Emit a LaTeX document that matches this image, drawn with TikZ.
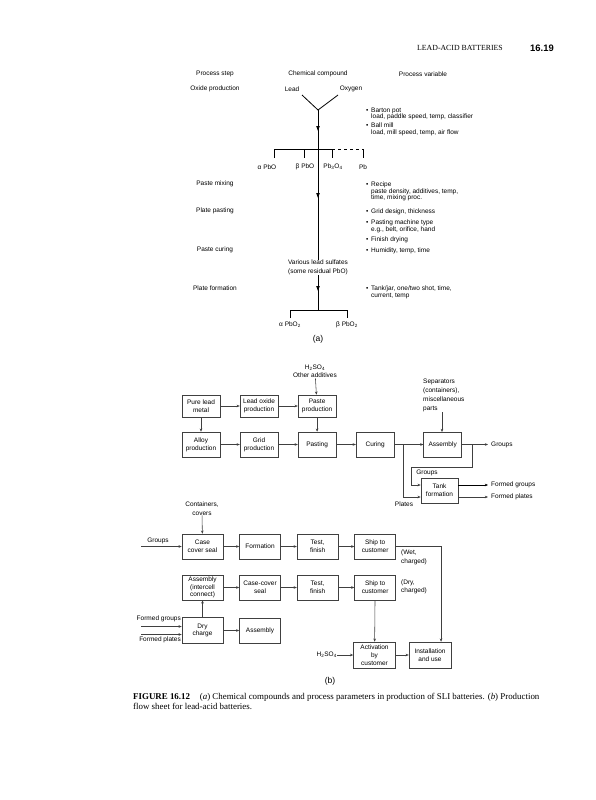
\documentclass[tikz,border=0pt]{standalone}
\usepackage{fontspec}
\setmainfont{Liberation Sans}
\newfontfamily\capfont{Liberation Serif}
\usetikzlibrary{arrows.meta,positioning}
\newcommand{\dgfont}{\fontsize{6.5}{7.8}\selectfont}
\newcommand{\bulx}{\makebox[5pt][l]{\textbullet}}
\newcommand{\indx}{\hspace*{5pt}}
\tikzset{pin/.style={-{Triangle[length=5pt,width=3.4pt]}},
  flow/.style={draw=black!75, line width=0.55pt, -{Stealth[length=3.2pt,width=2.6pt]}},
  lbl/.style={font=\dgfont, inner sep=0pt, align=center},
  pv/.style={font=\fontsize{6.5}{6.7}\selectfont, inner sep=0pt, align=left, anchor=north west},
  box/.style={draw=black!75, line width=0.55pt, minimum width=38pt, minimum height=22pt,
    inner sep=1pt, align=center, font=\dgfont},
  bigbox/.style={box, minimum width=41pt, minimum height=25pt}}

\begin{document}
\begin{tikzpicture}[x=1pt, y=-1pt]
  \useasboundingbox (0,0) rectangle (595,800);
  % page header
  \node[anchor=west, inner sep=0pt, font=\capfont\fontsize{7.8}{9}\selectfont] (runhead) at (417,48) {LEAD-ACID BATTERIES};
  \node[anchor=west, inner sep=0pt, font=\bfseries\fontsize{9.4}{10}\selectfont] (pageno) at (530,48) {16.19};
  % (a) column heads and process steps
  \node[lbl] (hstep) at (215,74) {Process step};
  \node[lbl] (hcomp) at (318,74) {Chemical compound};
  \node[lbl] (hvar) at (423,74) {Process variable};
  \node[lbl] (sOxide) at (215,89) {Oxide production};
  \node[lbl] (sMix) at (215,184) {Paste mixing};
  \node[lbl] (sPast) at (215,211) {Plate pasting};
  \node[lbl] (sCure) at (215,250) {Paste curing};
  \node[lbl] (sForm) at (215,288) {Plate formation};
  % (a) compounds
  \node[lbl] (lead) at (292,89) {Lead};
  \node[lbl] (oxy) at (351,89) {Oxygen};
  \coordinate (vl) at (302,95);
  \coordinate (vr) at (338,95);
  \coordinate (apex) at (318,110);
  \coordinate (br1) at (318,149);
  \coordinate (br2) at (318,310);
  \draw[line width=0.8pt] (vl) -- (apex) -- (vr);
  \draw[line width=0.8pt, pin] (apex) -- (318,131);
  \draw[line width=0.8pt] (318,129) -- (br1);
  \draw[line width=0.7pt] (274,158) -- (274,149) -- (332,149);
  \draw[line width=0.7pt, dashed] (332,149) -- (363,149);
  \draw[line width=0.7pt] (304,149) -- (304,158);
  \draw[line width=0.7pt] (332,149) -- (332,158);
  \draw[line width=0.7pt] (363,149) -- (363,158);
  \node[lbl] (aPbO) at (267,167) {α PbO};
  \node[lbl] (bPbO) at (305,167) {β PbO};
  \node[lbl] (minium) at (333,167) {Pb\textsubscript{3}O\textsubscript{4}};
  \node[lbl] (pb) at (363,167) {Pb};
  \node[lbl, font=\fontsize{6.5}{9}\selectfont] (sulf) at (318,267.5) {Various lead sulfates\\(some residual PbO)};
  \draw[line width=0.8pt, pin] (br1) -- (318,198);
  \draw[line width=0.8pt] (318,196) -- (sulf.north);
  \draw[line width=0.8pt, pin] (sulf.south) -- (318,291);
  \draw[line width=0.8pt] (318,289) -- (br2);
  \draw[line width=0.7pt] (290,318) -- (290,310) -- (347,310) -- (347,318);
  \node[lbl] (aPbO2) at (290,325) {α PbO\textsubscript{2}};
  \node[lbl] (bPbO2) at (347,325) {β PbO\textsubscript{2}};
  \node[lbl, font=\fontsize{8.5}{10}\selectfont] (parta) at (318,339) {(a)};
  % (a) process variables
  \node[pv] (vBarton) at (366,107.5) {\bulx Barton pot\\\indx load, paddle speed, temp, classifier};
  \node[pv] (vBall) at (366,122.5) {\bulx Ball mill\\\indx load, mill speed, temp, air flow};
  \node[pv] (vRecipe) at (366,181.5) {\bulx Recipe\\\indx paste density, additives, temp,\\\indx time, mixing proc.};
  \node[pv] (vGrid) at (366,208.5) {\bulx Grid design, thickness};
  \node[pv] (vMach) at (366,219.5) {\bulx Pasting machine type\\\indx e.g., belt, orifice, hand};
  \node[pv] (vDry) at (366,236.5) {\bulx Finish drying};
  \node[pv] (vHum) at (366,247.5) {\bulx Humidity, temp, time};
  \node[pv] (vTank) at (366,285.5) {\bulx Tank/jar, one/two shot, time,\\\indx current, temp};
  % (b) upper flow sheet
  \node[box] (pure) at (201,406) {Pure lead\\metal};
  \node[box, right=19.5pt of pure] (oxide) {Lead oxide\\production};
  \node[box, right=19.5pt of oxide] (paste) {Paste\\production};
  \node[box, minimum height=25pt] (alloy) at (201,444.5) {Alloy\\production};
  \node[box, minimum height=25pt, right=19.5pt of alloy] (grid) {Grid\\production};
  \node[box, minimum height=25pt, right=19.5pt of grid] (pasting) {Pasting};
  \node[box, minimum height=25pt, right=19.5pt of pasting] (curing) {Curing};
  \node[box, minimum height=25pt, right=29pt of curing] (assembly) {Assembly};
  \node[box, minimum width=37pt, minimum height=25pt] (tank) at (439.5,490.5) {Tank\\formation};
  \node[lbl, font=\fontsize{6.5}{8.5}\selectfont] (acid) at (315,371.5) {H\textsubscript{2}SO\textsubscript{4}\\Other additives};
  \node[lbl, font=\fontsize{6.5}{9}\selectfont, align=left, anchor=north west] (sep) at (423,379) {Separators\\(containers),\\miscellaneous\\parts};
  \coordinate (jc) at (403,444.5);
  \coordinate (jg) at (472,444.5);
  \coordinate (gout) at (488,444.5);
  \coordinate (fgout) at (488,485);
  \coordinate (fpout) at (488,497);
  \draw[flow] (pure) -- (oxide);
  \draw[flow] (oxide) -- (paste);
  \draw[flow] (pure) -- (alloy);
  \draw[flow] (acid) -- (paste);
  \draw[flow] (paste) -- (pasting);
  \draw[flow] (alloy) -- (grid);
  \draw[flow] (grid) -- (pasting);
  \draw[flow] (pasting) -- (curing);
  \draw[flow] (curing) -- (assembly);
  \draw[flow] (sep.south -| 442,0) -- (442,432);
  \draw[flow] (assembly) -- (gout);
  \draw[flow] (jg) |- (411,467) |- ([yshift=5.5pt]tank.west);
  \draw[flow] (jc) |- ([yshift=-6.5pt]tank.west);
  \draw[flow, draw=black, line width=0.7pt] ([yshift=5.5pt]tank.east) -- (fgout);
  \draw[flow] ([yshift=-6.5pt]tank.east) -- (fpout);
  \node[lbl, anchor=west] (groups) at (491,444.5) {Groups};
  \node[lbl] (grpin) at (427,473) {Groups};
  \node[lbl] (plates) at (404,504) {Plates};
  \node[lbl, anchor=west] (fgrp) at (491,485) {Formed groups};
  \node[lbl, anchor=west] (fpl) at (491,497) {Formed plates};
  % (b) lower flow sheet
  \node[bigbox] (case) at (202.5,546.5) {Case\\cover seal};
  \node[bigbox, right=16pt of case] (form) {Formation};
  \node[bigbox, right=16pt of form] (testa) {Test,\\finish};
  \node[bigbox, right=16pt of testa] (shipa) {Ship to\\customer};
  \node[bigbox] (asmb) at (202.5,587.5) {Assembly\\(intercell\\connect)};
  \node[bigbox, right=16pt of asmb] (ccseal) {Case-cover\\seal};
  \node[bigbox, right=16pt of ccseal] (testb) {Test,\\finish};
  \node[bigbox, right=16pt of testb] (shipb) {Ship to\\customer};
  \node[bigbox, minimum height=26pt] (dry) at (202.5,630.5) {Dry\\charge};
  \node[bigbox, right=16pt of dry] (asmc) {Assembly};
  \node[bigbox, minimum width=42pt, minimum height=26pt] (activ) at (374.5,655) {Activation\\by\\customer};
  \node[bigbox, minimum width=42pt, minimum height=26pt, right=13pt of activ] (install) {Installation\\and use};
  \node[lbl, font=\fontsize{6.5}{8.5}\selectfont] (cont) at (202,508.5) {Containers,\\covers};
  \node[lbl] (grpb) at (158,541) {Groups};
  \node[lbl, anchor=east] (fgrpb) at (181,619) {Formed groups};
  \node[lbl, anchor=east] (fplb) at (181,640) {Formed plates};
  \node[lbl, anchor=east] (acidb) at (337,655) {H\textsubscript{2}SO\textsubscript{4}};
  \node[lbl, font=\fontsize{6.5}{9}\selectfont, align=left, anchor=north west] (wet) at (401,549.5) {(Wet,\\charged)};
  \node[lbl, font=\fontsize{6.5}{8.5}\selectfont, align=left, anchor=north west] (dryc) at (401,579.5) {(Dry,\\charged)};
  \coordinate (gin) at (141,546.5);
  \coordinate (fgin) at (141,626.5);
  \coordinate (fpin) at (141,634.5);
  \draw[flow] (cont) -- (case);
  \draw[flow] (gin) -- (case);
  \draw[flow] (case) -- (form);
  \draw[flow] (form) -- (testa);
  \draw[flow] (testa) -- (shipa);
  \draw[flow] (shipa.east) -| ([xshift=11pt]install.north);
  \draw[flow] (asmb) -- (ccseal);
  \draw[flow] (ccseal) -- (testb);
  \draw[flow] (testb) -- (shipb);
  \draw[flow] (dry) -- (asmb);
  \draw[flow] (dry) -- (asmc);
  \draw[flow] (fgin) -- ([yshift=4pt]dry.west);
  \draw[flow] (fpin) -- ([yshift=-4pt]dry.west);
  \draw[flow] (shipb) -- (activ);
  \draw[flow] (acidb) -- (activ);
  \draw[flow] (activ) -- (install);
  \node[lbl, font=\fontsize{8.5}{10}\selectfont] (partb) at (330,681) {(b)};
  % caption
  \node[anchor=north west, inner sep=0pt, align=left, font=\capfont\fontsize{8.9}{9.5}\selectfont] (capt) at (133,693.5)
    {\textbf{FIGURE 16.12}\hspace{1.1em}(\textit{a}) Chemical compounds and process parameters in production of SLI batteries. (\textit{b}) Production\\flow sheet for lead-acid batteries.};
\end{tikzpicture}
\end{document}
